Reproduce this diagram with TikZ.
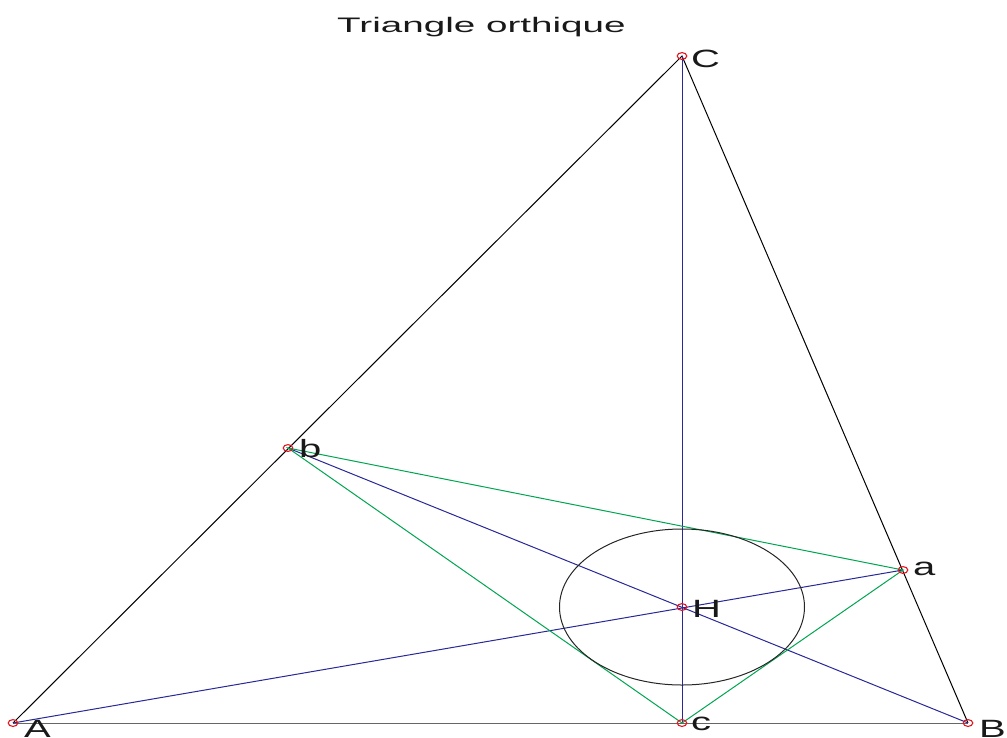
\documentclass[tikz,border=0pt]{standalone}
\usepackage{fontspec}
\usepackage{graphicx}
\setmainfont{Liberation Sans}
\definecolor{myblue}{RGB}{40,40,150}
\definecolor{mygreen}{RGB}{0,165,80}
\definecolor{myred}{RGB}{230,20,30}
\begin{document}
\begin{tikzpicture}[x=1pt,y=-1pt,
  lbl/.style={anchor=base west,inner sep=0pt,font=\fontsize{25}{25}\selectfont,text=black!90},
  side/.style={line width=1pt,black},
  alt/.style={line width=1pt,myblue},
  orth/.style={line width=1pt,mygreen}]
\useasboundingbox (0,0) rectangle (1007,737);
\coordinate (A) at (13,723);
\coordinate (B) at (968,723);
\coordinate (C) at (682,56);
\coordinate (a) at (903,570);
\coordinate (b) at (288,448);
\coordinate (c) at (682,723);
\coordinate (H) at (682,607);
% triangle
\draw[line width=1pt,black!60] (A) -- (B);
\draw[side] (A) -- (C) -- (B);
% altitudes
\draw[alt] (C) -- (c);
\draw[alt] (A) -- (a);
\draw[alt] (B) -- (b);
% orthic triangle
\draw[orth] (a) -- (b) -- (c) -- cycle;
% incircle of orthic triangle
\draw[line width=1pt,black!85] (H) ellipse [x radius=122.5, y radius=78];
% markers
\foreach \p in {A,B,C,a,b,c,H}{
  \draw[myred,line width=1.1pt] (\p) ellipse [x radius=4.8, y radius=3.4];
}
% labels
\node[lbl] (lA) at (24,737) {\scalebox{1.6}[1]{A}};
\node[lbl] (lB) at (979,737) {\scalebox{1.6}[1]{B}};
\node[lbl] (lC) at (691,67) {\scalebox{1.6}[1]{C}};
\node[lbl] (lH) at (692,617) {\scalebox{1.6}[1]{H}};
\node[lbl] (lb) at (299,457) {\scalebox{1.6}[1]{b}};
\node[lbl] (la) at (913,575) {\scalebox{1.6}[1]{a}};
\node[lbl] (lc) at (691,730) {\scalebox{1.6}[1]{c}};
% title
\node[anchor=base west,inner sep=0pt,font=\fontsize{21}{21}\selectfont,text=black!90] (title) at (337,32) {\scalebox{1.84}[1]{Triangle orthique}};
\end{tikzpicture}
\end{document}
